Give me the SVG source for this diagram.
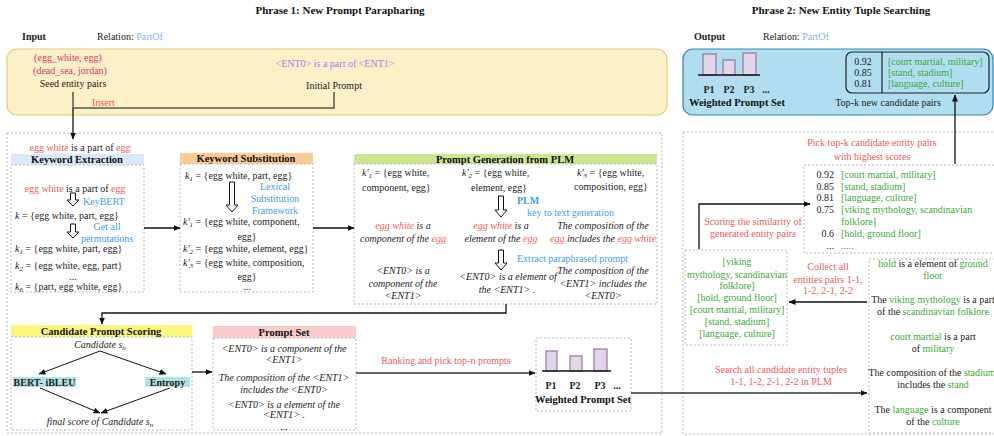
<svg xmlns="http://www.w3.org/2000/svg" width="994" height="436" viewBox="0 0 994 436">
<style>
.t{font-family:"Liberation Serif","Times New Roman",serif;font-size:10px;fill:#222}
.b{font-weight:bold}
.i{font-style:italic}
.c{text-anchor:middle}
.e{text-anchor:end}
.h{font-size:10.5px;font-weight:bold;text-anchor:middle;fill:#111}
.ttl{font-size:11px;font-weight:bold;text-anchor:middle;fill:#111}
.red{fill:#f05a5a}
.mag{fill:#d9376a}
.pur{fill:#9c83f0}
.blue{fill:#3d9bf2}
.lblue{fill:#7cb6f2}
.green{fill:#3aaa35}
.dash{fill:none;stroke:#b8b8b8;stroke-width:1;stroke-dasharray:2 2}
.bar{fill:#e1d5e7;stroke:#9673a6;stroke-width:1.2}
.base{stroke:#111;stroke-width:1.3}
.line{fill:none;stroke:#111;stroke-width:1.3}
.thin{fill:none;stroke:#111;stroke-width:1}
.hollow{fill:#fff;stroke:#111;stroke-width:1}
</style>
<defs>
<marker id="ah" markerWidth="7" markerHeight="6" refX="6.5" refY="3" orient="auto" markerUnits="userSpaceOnUse">
<path d="M0,0 L7,3 L0,6 z" fill="#111"/>
</marker>
</defs>

<text class="t ttl" x="340" y="14">Phrase 1: New Prompt Parapharing</text>
<text class="t ttl" x="841" y="14">Phrase 2: New Entity Tuple Searching</text>

<!-- input panel -->
<g id="input">
<text class="t b" x="22" y="40" font-size="11">Input</text>
<text class="t" x="97" y="40">Relation: <tspan class="lblue">PartOf</tspan></text>
<rect x="7" y="49" width="660" height="66" rx="10" fill="#fcf0c6" stroke="#e3cb82" stroke-width="1.2"/>
<text class="t c mag" x="68" y="61">(egg_white, egg)</text>
<text class="t c mag" x="70" y="74">(dead_sea, jordan)</text>
<text class="t c" x="73" y="87" font-size="10.5">Seed entity pairs</text>
<text class="t c pur" x="335" y="67">&lt;ENT0&gt; is a part of &lt;ENT1&gt;</text>
<text class="t c" x="334" y="89" font-size="10.5">Initial Prompt</text>
<text class="t red" x="92" y="106">Insert</text>
</g>

<!-- phase frames -->
<rect class="dash" x="7" y="133" width="655" height="300"/>
<rect class="dash" x="683" y="132" width="313" height="302"/>

<text class="t c" x="80" y="150.5"><tspan class="red">egg white</tspan> is a part of <tspan class="red">egg</tspan></text>

<!-- keyword extraction -->
<g id="keyword-extraction">
<rect x="11" y="154" width="133" height="11" fill="#dae8fc"/>
<rect class="dash" x="11" y="165" width="133" height="127"/>
<text class="t h" x="77" y="163">Keyword Extraction</text>
<text class="t c" x="75" y="191.5"><tspan class="red">egg white</tspan> is a part of <tspan class="red">egg</tspan></text>
<polygon class="hollow" points="70.5,193 75.5,193 75.5,200 79,200 73,206 67,200 70.5,200"/>
<text class="t blue" x="83" y="205">KeyBERT</text>
<text class="t" x="15" y="219"><tspan class="i">k</tspan> = {egg white, part, egg}</text>
<polygon class="hollow" points="70.5,224 75.5,224 75.5,232 79,232 73,238 67,232 70.5,232"/>
<text class="t c blue" x="107" y="230">Get all</text>
<text class="t c blue" x="107" y="242">permutations</text>
<text class="t" x="15" y="252"><tspan class="i">k</tspan><tspan class="i" font-size="7" dy="2">1</tspan><tspan dy="-2"> = {egg white, part, egg}</tspan></text>
<text class="t" x="15" y="268.5"><tspan class="i">k</tspan><tspan class="i" font-size="7" dy="2">2</tspan><tspan dy="-2"> = {egg white, egg, part}</tspan></text>
<text class="t c" x="73" y="280">...</text>
<text class="t" x="15" y="290"><tspan class="i">k</tspan><tspan class="i" font-size="7" dy="2">6</tspan><tspan dy="-2"> = {part, egg white, egg}</tspan></text>
</g>

<!-- keyword substitution -->
<g id="keyword-substitution">
<rect x="180" y="153" width="133" height="11" fill="#fdcb93"/>
<rect class="dash" x="180" y="164" width="133" height="128"/>
<text class="t h" x="246" y="162">Keyword Substitution</text>
<text class="t" x="185" y="179"><tspan class="i">k</tspan><tspan class="i" font-size="7" dy="2">1</tspan><tspan dy="-2"> = {egg white, part, egg}</tspan></text>
<polygon class="hollow" points="229.5,182 234.5,182 234.5,205 238,205 232,212 226,205 229.5,205"/>
<text class="t c blue" x="275" y="190">Lexical</text>
<text class="t c blue" x="275" y="202">Substitution</text>
<text class="t c blue" x="275" y="214">Framework</text>
<text class="t" x="183" y="225"><tspan class="i">k'</tspan><tspan class="i" font-size="7" dy="2">1</tspan><tspan dy="-2"> = {egg white, component,</tspan></text>
<text class="t c" x="247" y="240">egg}</text>
<text class="t" x="183" y="252"><tspan class="i">k'</tspan><tspan class="i" font-size="7" dy="2">2</tspan><tspan dy="-2"> = {egg white, element, egg}</tspan></text>
<text class="t" x="183" y="266"><tspan class="i">k'</tspan><tspan class="i" font-size="7" dy="2">3</tspan><tspan dy="-2"> = {egg white, composition,</tspan></text>
<text class="t c" x="247" y="279.5">egg}</text>
<text class="t c" x="247" y="290">...</text>
</g>

<!-- prompt generation from PLM -->
<g id="prompt-generation">
<rect x="354" y="154" width="303" height="10" fill="#cde694"/>
<rect class="dash" x="354" y="164" width="303" height="140"/>
<text class="t h" x="505" y="162.5">Prompt Generation from PLM</text>
<text class="t" x="362" y="176"><tspan class="i">k'</tspan><tspan class="i" font-size="7" dy="2">1</tspan><tspan dy="-2"> = {egg white,</tspan></text>
<text class="t" x="362" y="191">component, egg}</text>
<text class="t" x="462" y="176"><tspan class="i">k'</tspan><tspan class="i" font-size="7" dy="2">2</tspan><tspan dy="-2"> = {egg white,</tspan></text>
<text class="t c" x="499" y="191">element, egg}</text>
<text class="t" x="577" y="176"><tspan class="i">k'</tspan><tspan class="i" font-size="7" dy="2">3</tspan><tspan dy="-2"> = {egg white,</tspan></text>
<text class="t" x="574" y="190">composition, egg}</text>
<polygon class="hollow" points="498.5,196 503.5,196 503.5,210 507,210 501,217 495,210 498.5,210"/>
<text class="t b blue" x="517" y="203.5">PLM</text>
<text class="t blue" x="527" y="215.5">key to text generation</text>
<text class="t i c" x="403" y="229"><tspan class="red">egg white</tspan> is a</text>
<text class="t i c" x="403" y="242">component of the <tspan class="red">egg</tspan></text>
<text class="t i c" x="501" y="229"><tspan class="red">egg white</tspan> is a</text>
<text class="t i c" x="501" y="242">element of the <tspan class="red">egg</tspan></text>
<text class="t i c" x="603" y="229">The composition of the</text>
<text class="t i c" x="603" y="242"><tspan class="red">egg</tspan> includes the <tspan class="red">egg white</tspan></text>
<polygon class="hollow" points="498.5,250 503.5,250 503.5,263 507,263 501,270 495,263 498.5,263"/>
<text class="t blue" x="517" y="261.5">Extract paraphrased prompt</text>
<text class="t i c" x="403" y="274">&lt;ENT0&gt; is a</text>
<text class="t i c" x="403" y="286.5">component of the</text>
<text class="t i c" x="403" y="298.5">&lt;ENT1&gt;</text>
<text class="t i c" x="508" y="280">&lt;ENT0&gt; is a element of</text>
<text class="t i c" x="507" y="292.5">the &lt;ENT1&gt; .</text>
<text class="t i c" x="603" y="274">The composition of the</text>
<text class="t i c" x="603" y="286.5">&lt;ENT1&gt; includes the</text>
<text class="t i c" x="603" y="298.5">&lt;ENT0&gt;</text>
</g>

<!-- candidate prompt scoring -->
<g id="candidate-scoring">
<rect x="11" y="325" width="181" height="12" fill="#fbf77c"/>
<rect class="dash" x="11" y="337" width="181" height="93"/>
<text class="t h" x="101" y="334.5">Candidate Prompt Scoring</text>
<text class="t i c" x="100" y="348">Candidate <tspan>s</tspan><tspan font-size="7" dy="2">n</tspan></text>
<rect x="13" y="377" width="63" height="10" fill="#b0e2e6"/>
<text class="t b c" x="44.5" y="385.5">BERT- iBLEU</text>
<rect x="145" y="377" width="45" height="10" fill="#b0e2e6"/>
<text class="t b c" x="167.5" y="385.5">Entropy</text>
<text class="t i c" x="100" y="425">final score of Candidate <tspan>s</tspan><tspan font-size="7" dy="2">n</tspan></text>
<path class="thin" d="M100,351 L39,374" marker-end="url(#ah)"/>
<path class="thin" d="M100,351 L166,374" marker-end="url(#ah)"/>
<path class="thin" d="M40,388 L100,413" marker-end="url(#ah)"/>
<path class="thin" d="M170,388 L101,413" marker-end="url(#ah)"/>
</g>

<!-- prompt set -->
<g id="prompt-set">
<rect x="213" y="326" width="143" height="12" fill="#fbcaca"/>
<rect class="dash" x="213" y="338" width="143" height="92"/>
<text class="t h" x="284" y="335.5">Prompt Set</text>
<text class="t i c" x="284" y="351.5">&lt;ENT0&gt; is a component of the</text>
<text class="t i c" x="284" y="362.5">&lt;ENT1&gt;</text>
<text class="t i c" x="284" y="380.5">The composition of the &lt;ENT1&gt;</text>
<text class="t i c" x="284" y="392.5">includes the &lt;ENT0&gt;</text>
<text class="t i c" x="284" y="407.5">&lt;ENT0&gt; is a element of the</text>
<text class="t i c" x="284" y="418">&lt;ENT1&gt; .</text>
<text class="t c" x="284" y="429.5" font-size="9">...</text>
</g>

<!-- weighted prompt set (phase 1) -->
<g id="weighted-prompt-set">
<rect class="dash" x="536" y="338" width="95" height="73"/>
<rect class="bar" x="546" y="351" width="11" height="20"/>
<rect class="bar" x="570" y="356" width="12" height="15"/>
<rect class="bar" x="594" y="349" width="13" height="22"/>
<line class="base" x1="542" y1="371" x2="611" y2="371"/>
<text class="t b c" x="551" y="389" font-size="10.5">P1</text>
<text class="t b c" x="575" y="389" font-size="10.5">P2</text>
<text class="t b c" x="600" y="389" font-size="10.5">P3</text>
<text class="t b c" x="617" y="389" font-size="10.5">...</text>
<text class="t h" x="583" y="402.5">Weighted Prompt Set</text>
</g>

<!-- output panel -->
<g id="output">
<text class="t b" x="694" y="40" font-size="11">Output</text>
<text class="t" x="763" y="40">Relation: <tspan class="lblue">PartOf</tspan></text>
<rect x="683" y="49" width="310" height="66" rx="10" fill="#b1ddf0" stroke="#2f86b2" stroke-width="1.2"/>
<rect class="bar" x="703" y="54" width="13" height="21"/>
<rect class="bar" x="723" y="60" width="12" height="15"/>
<rect class="bar" x="743" y="53" width="13" height="22"/>
<line class="base" x1="698" y1="75" x2="760" y2="75"/>
<text class="t b c" x="709" y="93" font-size="10.5">P1</text>
<text class="t b c" x="729" y="93" font-size="10.5">P2</text>
<text class="t b c" x="749" y="93" font-size="10.5">P3</text>
<text class="t b c" x="766" y="93" font-size="10.5">...</text>
<text class="t h" x="737" y="106">Weighted Prompt Set</text>
<rect x="846" y="52" width="143" height="41" rx="6" fill="none" stroke="#222" stroke-width="1.2"/>
<line x1="882" y1="52" x2="882" y2="93" stroke="#222" stroke-width="1.2"/>
<text class="t c" x="863" y="64.5">0.92</text>
<text class="t c" x="863" y="75.5">0.85</text>
<text class="t c" x="863" y="86.5">0.81</text>
<text class="t green" x="888" y="64.5">[court martial, military]</text>
<text class="t green" x="888" y="75.5">[stand, stadium]</text>
<text class="t green" x="888" y="86.5">[language, culture]</text>
<text class="t c" x="888" y="106">Top-k new candidate pairs</text>
</g>

<!-- top-k scored pairs -->
<g id="topk-scores">
<rect class="dash" x="804" y="165" width="192" height="88"/>
<text class="t c red" x="872" y="145.5">Pick top-k candidate entity pairs</text>
<text class="t c red" x="872" y="159.5">with highest scores</text>
<text class="t e" x="834" y="177.5">0.92</text>
<text class="t green" x="841" y="177.5">[court martial, military]</text>
<text class="t e" x="834" y="189.5">0.85</text>
<text class="t green" x="841" y="189.5">[stand, stadium]</text>
<text class="t e" x="834" y="200.5">0.81</text>
<text class="t green" x="841" y="200.5">[language, culture]</text>
<text class="t e" x="834" y="212.5">0.75</text>
<text class="t green" x="841" y="212.5">[viking mythology, scandinavian</text>
<text class="t green" x="841" y="225">folklore]</text>
<text class="t e" x="834" y="236.5">0.6</text>
<text class="t green" x="841" y="236.5">[hold, ground floor]</text>
<text class="t e" x="834" y="249">...</text>
<text class="t green" x="841" y="249">.....</text>
</g>

<!-- collected candidate pairs -->
<g id="candidate-pairs">
<rect class="dash" x="685" y="250" width="102" height="95"/>
<text class="t c red" x="753" y="224.5">Scoring the similarity of</text>
<text class="t c red" x="753" y="236.5">generated entity pairs</text>
<text class="t c green" x="737" y="265">[viking</text>
<text class="t c green" x="737" y="277.5">mythology, scandinavian</text>
<text class="t c green" x="737" y="289">folklore]</text>
<text class="t c green" x="737" y="301">[hold, ground floor]</text>
<text class="t c green" x="737" y="313">[court martial, military]</text>
<text class="t c green" x="737" y="325">[stand, stadium]</text>
<text class="t c green" x="737" y="337">[language, culture]</text>
<text class="t c red" x="828" y="270">Collect all</text>
<text class="t c red" x="828" y="282.5">entities pairs 1-1,</text>
<text class="t c red" x="828" y="294">1-2, 2-1, 2-2</text>
</g>

<!-- generated sentences -->
<g id="sentences">
<rect class="dash" x="869" y="259" width="130" height="174"/>
<text class="t c" x="933" y="266.5"><tspan class="green">hold</tspan> is a element of <tspan class="green">ground</tspan></text>
<text class="t c green" x="933" y="279">floor</text>
<text class="t c" x="933" y="302.5">The <tspan class="green">viking mythology</tspan> is a part</text>
<text class="t c" x="933" y="315">of  the <tspan class="green">scandinavian folklore</tspan></text>
<text class="t c" x="933" y="339.5"><tspan class="green">court martial</tspan> is a part</text>
<text class="t c" x="933" y="351.5">of <tspan class="green">military</tspan></text>
<text class="t c" x="932" y="375.5">The composition of the <tspan class="green">stadium</tspan></text>
<text class="t c" x="933" y="387.5">includes the <tspan class="green">stand</tspan></text>
<text class="t c" x="933" y="412.5">The <tspan class="green">language</tspan> is a component</text>
<text class="t c" x="933" y="424.5">of the <tspan class="green">culture</tspan></text>
</g>

<!-- connectors -->
<g id="connectors">
<path d="M334,92 V108 H73" fill="none" stroke="#555" stroke-width="1.5"/>
<path d="M73,92 V108" fill="none" stroke="#555" stroke-width="1.5"/>
<path class="line" d="M73,108 V139" stroke-width="1.8" marker-end="url(#ah)"/>
<path class="line" d="M144,228 H180" marker-end="url(#ah)"/>
<path class="line" d="M313,228 H354" marker-end="url(#ah)"/>
<path class="line" d="M506,304 V313 H102 V324" marker-end="url(#ah)"/>
<path class="line" d="M192,372 H212" marker-end="url(#ah)"/>
<path d="M356,373 H535" fill="none" stroke="#333" stroke-width="1.5" marker-end="url(#ah)"/>
<text class="t c red" x="446" y="363.5">Ranking and pick top-n prompts</text>
<path d="M631,393 H867" fill="none" stroke="#333" stroke-width="1.5" marker-end="url(#ah)"/>
<text class="t c red" x="781" y="372.5">Search all candidate entity tuples</text>
<text class="t c red" x="781" y="384.5">1-1, 1-2, 2-1, 2-2 in PLM</text>
<path class="line" d="M867,302 H789" marker-end="url(#ah)"/>
<path class="line" d="M699,249 V204 H810" marker-end="url(#ah)"/>
<path class="line" d="M955,164 V95" marker-end="url(#ah)"/>
</g>
</svg>
